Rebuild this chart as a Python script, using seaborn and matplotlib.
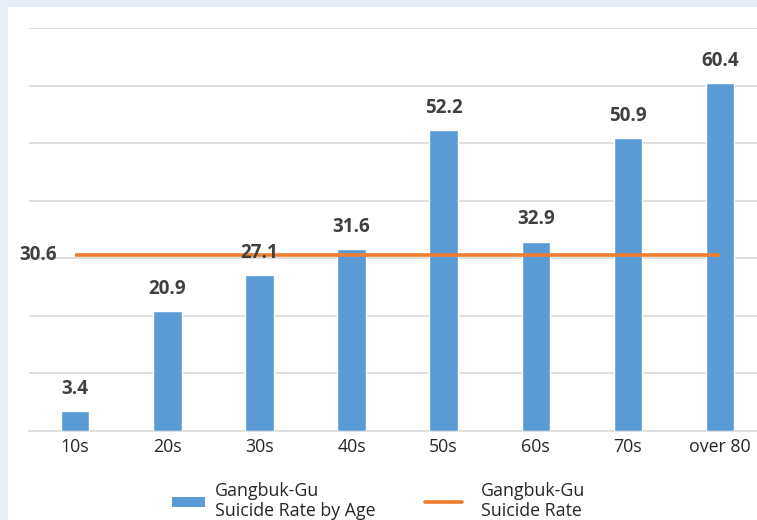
import matplotlib
matplotlib.use("Agg")
import matplotlib.pyplot as plt
import matplotlib.transforms as mtransforms
import seaborn as sns
import pandas as pd
from matplotlib.patches import Rectangle, Patch
from matplotlib.lines import Line2D

categories = ["10s", "20s", "30s", "40s", "50s", "60s", "70s", "over 80"]
rates = [3.4, 20.9, 27.1, 31.6, 52.2, 32.9, 50.9, 60.4]
average_rate = 30.6
bar_label = "Gangbuk-Gu\nSuicide Rate by Age"
line_label = "Gangbuk-Gu\nSuicide Rate"

sns.set_theme(style="white")
plt.rcParams['font.family'] = ['Open Sans', 'DejaVu Sans']

BLUE = "#5b9bd5"
ORANGE = "#ed7d31"
TXT = "#404040"

fig = plt.figure(figsize=(7.57, 5.20), dpi=100)
fig.patch.set_facecolor("#e6eef8")
bg = Rectangle((8/757, 0), 1 - 8/757, 1 - 7/520, transform=fig.transFigure,
               facecolor="white", edgecolor="none", zorder=-10)
fig.patches.append(bg)

ax = fig.add_axes([29/757, 1 - 431/520, 1 - 29/757, (431 - 28)/520])
ax.set_facecolor("none")
df = pd.DataFrame({"age": categories, "rate": rates})
sns.barplot(data=df, x="age", y="rate", color=BLUE, width=0.31, saturation=1, ax=ax, zorder=3)

ax.set_ylim(0, 70)
ax.set_xlim(-0.5, 7.4)
ax.set_yticks(range(0, 71, 10))
ax.yaxis.grid(True, color="#d9d9d9", linewidth=1.2, zorder=0)
ax.set_axisbelow(True)
ax.set_yticklabels([])
ax.tick_params(axis="y", length=0)
ax.tick_params(axis="x", length=0, labelsize=12.8, labelcolor="#262626", pad=5)
ax.set_xlabel("")
ax.set_ylabel("")
for s in ["top", "right", "left"]:
    ax.spines[s].set_visible(False)
ax.spines["bottom"].set_color("#d9d9d9")
ax.spines["bottom"].set_linewidth(1.2)

for i, v in enumerate(rates):
    ax.text(i, v + 2.1, f"{v}", ha="center", va="bottom", fontsize=13.5,
            fontweight="bold", color=TXT, zorder=5)

ax.hlines(average_rate, 0, len(categories) - 1, color=ORANGE, linewidth=2.6, zorder=4)
trans = mtransforms.blended_transform_factory(fig.transFigure, ax.transData)
ax.text(19/757, average_rate, f"{average_rate}", ha="left", va="center", fontsize=13.5,
        fontweight="bold", color=TXT, clip_on=False, transform=trans)

leg1 = fig.legend([Patch(facecolor=BLUE, edgecolor="none")], [bar_label],
                  loc="lower left", bbox_to_anchor=(0.2085, -0.028), frameon=False,
                  fontsize=12.8, handlelength=1.85, handleheight=0.5, handletextpad=0.55,
                  labelcolor="#262626", borderpad=0.3)
leg2 = fig.legend([Line2D([0], [0], color=ORANGE, linewidth=2.6)], [line_label],
                  loc="lower left", bbox_to_anchor=(0.5427, -0.028), frameon=False,
                  fontsize=12.8, handlelength=2.1, handletextpad=1.05,
                  labelcolor="#262626", borderpad=0.3)

fig.savefig("out.png", dpi=100, facecolor=fig.get_facecolor())
